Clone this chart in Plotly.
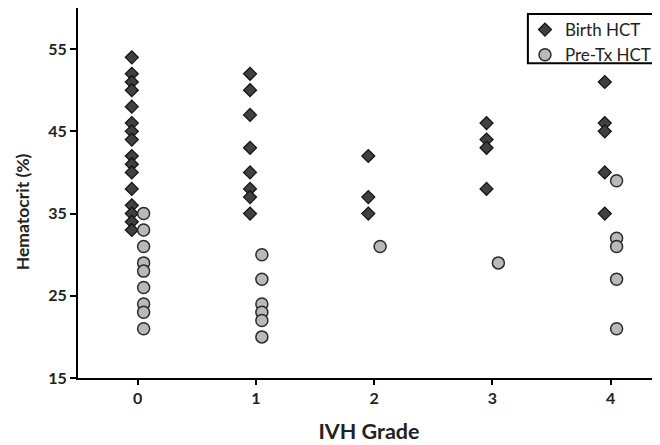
import plotly.graph_objects as go

# IVH grade categories
grades = [0, 1, 2, 3, 4]
tick_labels = ["0", "1", "2", "3", "4"]

# Birth HCT (%) per IVH grade
birth_g0 = [54, 52, 51, 50, 48, 46, 45, 44, 42, 41, 40, 38, 36, 35, 34, 33]
birth_g1 = [52, 50, 47, 43, 40, 38, 37, 35]
birth_g2 = [42, 37, 35]
birth_g3 = [46, 44, 43, 38]
birth_g4 = [51, 46, 45, 40, 35]

# Pre-transfusion HCT (%) per IVH grade
pretx_g0 = [35, 33, 31, 29, 28, 26, 24, 23, 21]
pretx_g1 = [30, 27, 24, 23, 22, 20]
pretx_g2 = [31]
pretx_g3 = [29]
pretx_g4 = [39, 32, 31, 27, 21]

y_ticks = [15, 25, 35, 45, 55]

birth_groups = [birth_g0, birth_g1, birth_g2, birth_g3, birth_g4]
pretx_groups = [pretx_g0, pretx_g1, pretx_g2, pretx_g3, pretx_g4]

DODGE = 0.05

def flatten(groups, shift):
    xs, ys = [], []
    for g, vals in zip(grades, groups):
        for v in vals:
            xs.append(g + shift)
            ys.append(v)
    return xs, ys

bx, by = flatten(birth_groups, -DODGE)
px, py = flatten(pretx_groups, DODGE)

FONT = "Lato"
TXT = "#222222"

fig = go.Figure()
fig.add_trace(go.Scatter(
    x=bx, y=by, mode="markers", name="Birth HCT",
    marker=dict(symbol="diamond", size=10, color="#404040",
                line=dict(color="#111111", width=1.2)),
))
fig.add_trace(go.Scatter(
    x=px, y=py, mode="markers", name="Pre-Tx HCT",
    marker=dict(symbol="circle", size=12, color="#b9b9b9",
                line=dict(color="#2a2a2a", width=1.5)),
))

# legend frame
fig.add_shape(type="rect", xref="paper", yref="paper",
              x0=0.773, x1=1.03, y0=0.851, y1=0.984,
              line=dict(color="black", width=2), fillcolor="white",
              layer="below")

# y-axis title (placed slightly below the axis centre, as in the original)
fig.add_annotation(
    text="<b>Hematocrit (%)</b>", textangle=-90,
    xref="paper", yref="paper", x=-0.095, y=0.45,
    xanchor="center", yanchor="middle", showarrow=False,
    font=dict(family=FONT, size=17.5, color=TXT),
)

fig.update_layout(
    width=660, height=445,
    margin=dict(l=70, r=8, t=0, b=75),
    paper_bgcolor="white", plot_bgcolor="white",
    font=dict(family=FONT, color=TXT),
    showlegend=True,
    legend=dict(
        x=0.768, xanchor="left", y=0.989, yanchor="top",
        bgcolor="rgba(0,0,0,0)", borderwidth=0,
        font=dict(family=FONT, size=17, color=TXT),
        tracegroupgap=0, itemwidth=30,
    ),
    xaxis=dict(
        range=[-0.505, 4.417],
        tickmode="array", tickvals=grades, ticktext=tick_labels,
        showgrid=False, zeroline=False,
        showline=True, linecolor="black", linewidth=2,
        ticks="outside", ticklen=5, tickwidth=2, tickcolor="black",
        tickfont=dict(family=FONT, size=16, color=TXT, weight="bold"),
        title=dict(text="<b>IVH Grade</b>", font=dict(family=FONT, size=21.5, color=TXT),
                   standoff=18),
    ),
    yaxis=dict(
        range=[15, 60],
        tickmode="array", tickvals=y_ticks,
        showgrid=False, zeroline=False,
        showline=True, linecolor="black", linewidth=2,
        ticks="outside", ticklen=6, tickwidth=2, tickcolor="black",
        tickfont=dict(family=FONT, size=16, color=TXT, weight="bold"),
    ),
)

fig.write_html("out.html")
